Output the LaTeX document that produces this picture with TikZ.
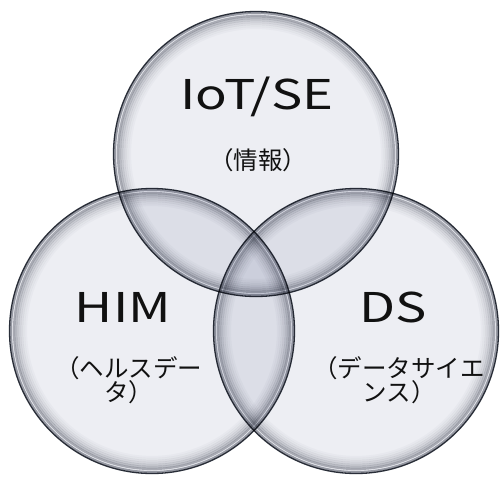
\documentclass[tikz,border=0pt]{standalone}
\usepackage{fontspec}
\setmainfont{Noto Sans CJK JP}
\newfontfamily\widefont[FakeStretch=1.28]{Noto Sans CJK JP}
\usetikzlibrary{positioning}
\definecolor{glassin}{RGB}{237,238,243}
\definecolor{glassedge}{RGB}{70,76,90}
\definecolor{rimline}{RGB}{45,50,60}
\definecolor{textblack}{RGB}{17,17,17}

\begin{document}
\begin{tikzpicture}[x=1pt, y=-1pt,
    title/.style={font=\widefont\fontsize{41}{41}\selectfont, text=textblack},
    sub/.style={font=\fontsize{24.5}{24}\selectfont, align=center, text=textblack}]
    \useasboundingbox (0,0) rectangle (504,477);
    \fill[white] (0,0) rectangle (504,477);

    % Centres
    \coordinate (him) at (152,331);
    \coordinate (ds) at (356,331);
    \coordinate (iot) at (256,154);

    % Glass circles
    \begin{scope}[blend mode=multiply]
        \foreach \c in {him, ds, iot} {
            \fill[glassin] (\c) circle[radius=143];
            \foreach \d/\o in {5/0.4, 7/0.3, 9/0.22, 11/0.15, 13/0.1, 15/0.06, 17/0.03}
                \draw[glassedge, line width=2.2pt, opacity=\o] (\c) circle[radius=143-\d];
            \draw[glassedge, line width=2pt, opacity=0.5] (\c) circle[radius=141];
            \draw[rimline, line width=1.3pt] (\c) circle[radius=142.5];
        }
    \end{scope}

    % Labels
    \node[title] (iottitle) at (257,97) {IoT/SE};
    \node[sub] (iotsub) at (258,160) {（情報）};
    \node[title] (himtitle) at (123,307) {HIM};
    \node[sub] (himsub) at (129,380) {（ヘルスデー\\タ）};
    \node[title] (dstitle) at (393,307) {DS};
    \node[sub] (dssub) at (399,380) {（データサイエ\\ンス）};
\end{tikzpicture}
\end{document}
